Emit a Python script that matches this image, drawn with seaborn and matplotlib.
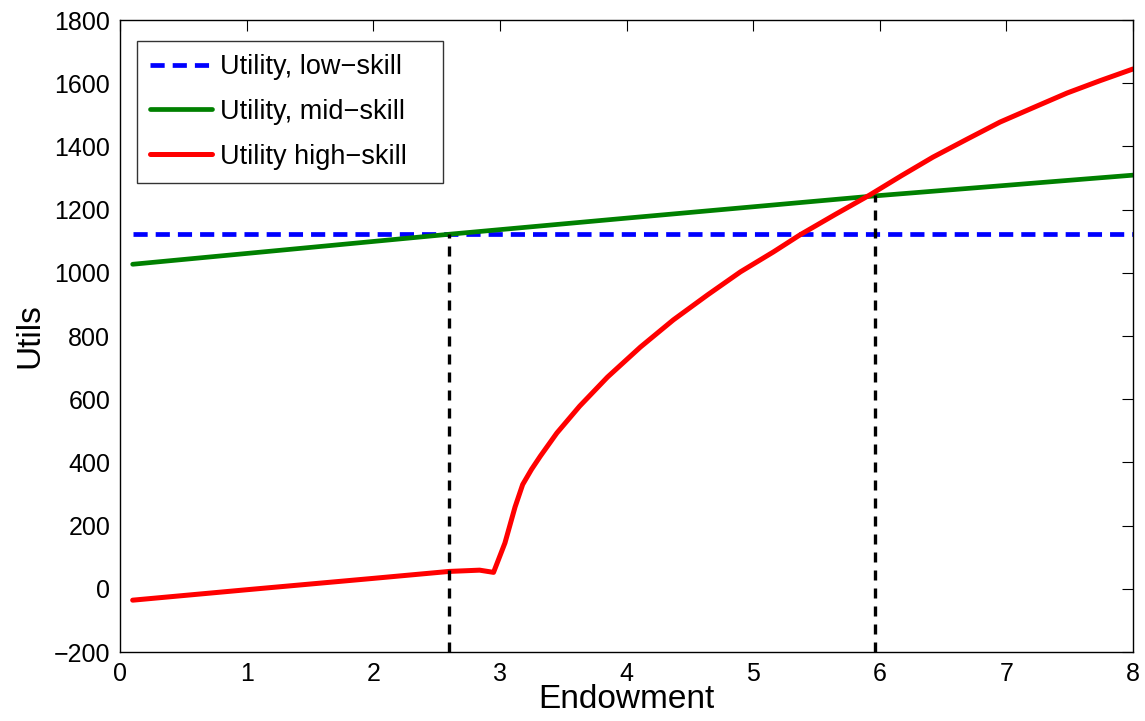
import matplotlib
matplotlib.use("Agg")
import matplotlib.pyplot as plt
import seaborn as sns
import pandas as pd
import numpy as np

sns.set_theme(style="white")
plt.rcParams['font.family'] = ['Liberation Sans', 'DejaVu Sans']

# Data
endow_low = [0.1, 8.0]
util_low = [1122, 1122]

endow_mid = [0.1, 2.6, 4.0, 5.95, 8.0]
util_mid = [1027, 1122, 1173, 1243, 1309]

endow_high = [0.1, 1.0, 2.0, 2.6, 2.84, 2.95, 3.04, 3.12, 3.18, 3.25, 3.32, 3.45,
              3.63, 3.85, 4.11, 4.37, 4.64, 4.90, 5.16, 5.37, 5.65, 5.92, 6.17,
              6.42, 6.69, 6.95, 7.22, 7.48, 7.74, 8.0]
util_high = [-36, -3, 33, 55, 59, 52, 145, 259, 330, 378, 420, 493,
             578, 670, 765, 851, 930, 1003, 1066, 1120, 1185, 1246, 1307,
             1366, 1423, 1477, 1524, 1569, 1608, 1645]

vline_x = [2.6, 5.96]
vline_top = [1122, 1245]

fig = plt.figure(figsize=(11.45, 7.21), dpi=100)
ax = fig.add_axes([120/1145, 1 - 652/721, (1133-120)/1145, (652-20)/721])

sns.lineplot(x=endow_low, y=util_low, ax=ax, color='#0000ff', lw=3.4,
             linestyle=(0, (3, 1.7)), label='Utility, low\u2212skill')
sns.lineplot(x=endow_mid, y=util_mid, ax=ax, color='#008000', lw=3.4,
             label='Utility, mid\u2212skill')
sns.lineplot(x=endow_high, y=util_high, ax=ax, color='#ff0000', lw=3.6,
             label='Utility high\u2212skill')
for xv, top in zip(vline_x, vline_top):
    ax.plot([xv, xv], [-200, top], color='black', lw=2.4, linestyle=(0, (3, 2.4)))

ax.set_xlim(0, 8)
ax.set_ylim(-200, 1800)
ax.set_xticks(range(0, 9))
ax.set_yticks(range(-200, 1801, 200))
ax.set_yticklabels([f"\u2212{abs(v)}" if v < 0 else str(v) for v in range(-200, 1801, 200)])
ax.tick_params(direction='in', length=8, width=0.8, top=True, right=True,
               labelsize=18, colors='black', pad=7)
for s in ax.spines.values():
    s.set_color('black')
    s.set_linewidth(1.0)
ax.set_xlabel('Endowment', fontsize=24, labelpad=-1, color='black')
ax.set_ylabel('Utils', fontsize=24, labelpad=6, color='black')

leg_x0 = (137 - 120) / 1013
leg_w = (443 - 137) / 1013
leg_top = (652 - 41) / 632
leg = ax.legend(loc='upper left', mode='expand', fontsize=19.5, frameon=True,
                fancybox=False, edgecolor='black', handlelength=2.3,
                borderpad=0.48, labelspacing=0.70, handletextpad=0.3,
                borderaxespad=0, bbox_to_anchor=(leg_x0, 0, leg_w, leg_top))
leg.get_frame().set_linewidth(1.0)
for t in leg.get_texts():
    t.set_color('black')

fig.savefig('out.png', dpi=100)
